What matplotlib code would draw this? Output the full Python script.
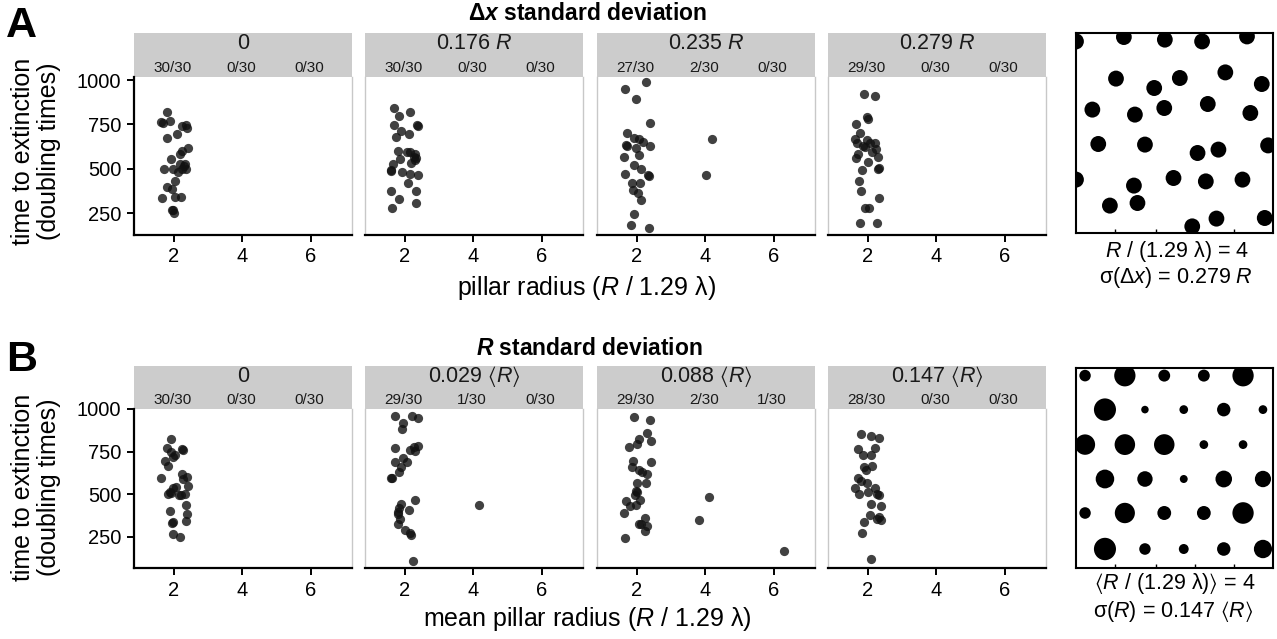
import matplotlib
matplotlib.use('Agg')
import matplotlib.pyplot as plt
from matplotlib.patches import Rectangle, Circle
import matplotlib.transforms as mtransforms

plt.rcParams['font.family'] = ['Liberation Sans', 'DejaVu Sans']
plt.rcParams['mathtext.fontset'] = 'custom'
plt.rcParams['mathtext.rm'] = 'Liberation Sans'
plt.rcParams['mathtext.it'] = 'Liberation Sans:italic'
plt.rcParams['mathtext.bf'] = 'Liberation Sans:bold'
plt.rcParams['mathtext.bfit'] = 'Liberation Sans:bold:italic'
plt.rcParams['mathtext.fallback'] = 'stixsans'

# ---- data: time to extinction per run (x = jittered pillar radius) ----
# row A, delta-x standard deviation
a1_x = [1.80, 1.63, 1.68, 1.87, 1.78, 2.10, 2.24, 2.36, 2.39, 2.41, 2.24, 2.17, 1.90, 1.72, 1.97,
        2.17, 2.31, 2.36, 2.12, 2.02, 1.78, 1.93, 1.66, 2.02, 2.19, 1.97, 2.00, 2.24, 2.29, 1.95]
a1_y = [821, 764, 759, 770, 674, 695, 740, 744, 727, 617, 599, 585, 552, 501, 501,
        529, 529, 501, 482, 429, 397, 384, 337, 340, 340, 269, 252, 501, 516, 265]
a2_x = [1.67, 2.15, 1.82, 1.67, 2.37, 2.35, 1.87, 2.13, 1.75, 1.78, 2.05, 2.30, 2.33, 1.85, 2.17,
        1.65, 1.60, 1.90, 2.15, 2.37, 1.60, 2.10, 1.58, 2.33, 1.83, 2.32, 1.63, 2.25, 2.15, 2.28]
a2_y = [845, 817, 796, 746, 742, 746, 712, 693, 676, 601, 595, 585, 563, 552, 533,
        529, 491, 482, 472, 467, 487, 420, 374, 374, 331, 308, 278, 567, 595, 548]
a3_x = [2.26, 1.66, 1.97, 2.39, 1.72, 1.90, 2.05, 2.17, 1.68, 1.71, 2.39, 1.97, 2.07, 1.63, 1.92,
        2.12, 2.36, 2.31, 1.65, 1.84, 2.10, 1.87, 2.02, 2.12, 1.92, 1.83, 2.34, 4.20, 4.02]
a3_y = [987, 949, 893, 755, 699, 674, 666, 651, 636, 627, 629, 617, 576, 567, 520,
        497, 457, 463, 472, 420, 422, 378, 365, 322, 246, 184, 165, 670, 463]
a4_x = [1.89, 2.21, 1.97, 2.00, 1.65, 1.77, 1.63, 1.68, 1.97, 1.85, 2.07, 2.20, 2.24, 2.12, 1.70,
        1.65, 2.28, 2.00, 2.33, 2.29, 1.83, 1.74, 1.79, 2.33, 1.90, 2.04, 1.77, 2.26, 1.92]
a4_y = [921, 910, 793, 778, 752, 704, 665, 646, 661, 629, 646, 646, 610, 595, 585,
        563, 567, 535, 506, 501, 495, 431, 374, 337, 280, 280, 194, 196, 623]

# row B, R standard deviation
b1_x = [1.92, 1.78, 1.90, 2.04, 1.97, 2.24, 2.27, 1.75, 1.81, 1.63, 2.24, 2.27, 2.39, 2.41, 1.97,
        2.07, 1.87, 1.83, 1.92, 2.15, 2.33, 2.21, 2.34, 2.38, 1.87, 2.36, 1.97, 1.94, 1.97, 2.17]
b1_y = [823, 770, 750, 731, 721, 766, 760, 696, 667, 597, 619, 588, 600, 548, 535,
        544, 515, 501, 505, 495, 501, 495, 436, 387, 401, 344, 338, 334, 270, 250]
b2_x = [1.72, 2.20, 2.38, 1.95, 1.90, 1.70, 2.15, 2.27, 2.38, 2.30, 1.93, 1.70, 2.07, 1.88, 1.82,
        1.60, 1.62, 1.87, 2.30, 1.83, 1.78, 2.13, 1.85, 1.78, 2.00, 2.15, 2.18, 2.23, 1.80, 4.17]
b2_y = [957, 961, 947, 918, 882, 770, 760, 776, 784, 751, 715, 688, 688, 658, 633,
        597, 593, 446, 466, 417, 397, 407, 354, 325, 293, 276, 260, 109, 387, 436]
b3_x = [1.90, 2.39, 2.29, 2.40, 2.05, 2.00, 1.76, 1.89, 2.41, 1.84, 2.05, 2.15, 2.29, 2.00, 2.26,
        1.97, 2.00, 2.10, 1.68, 1.80, 1.97, 1.63, 2.24, 2.07, 2.29, 2.22, 1.65, 2.12, 1.94,
        4.10, 3.82, 6.28]
b3_y = [953, 937, 859, 810, 823, 796, 776, 696, 692, 662, 643, 633, 619, 568, 564,
        521, 511, 466, 460, 431, 436, 391, 364, 323, 315, 285, 244, 325, 495,
        482, 348, 166]
b4_x = [1.80, 2.09, 2.33, 2.20, 1.70, 1.85, 2.10, 1.89, 1.95, 2.12, 1.72, 1.78, 1.63, 1.74, 1.97,
        2.00, 2.20, 2.26, 2.31, 2.09, 2.39, 2.05, 2.26, 2.39, 2.31, 1.89, 1.82, 2.10]
b4_y = [855, 840, 830, 773, 763, 730, 730, 662, 642, 666, 595, 577, 536, 503, 566,
        513, 536, 503, 493, 444, 434, 377, 358, 348, 368, 338, 275, 118]

strip_a = ['0', '0.176 $R$', '0.235 $R$', '0.279 $R$']
strip_b = ['0', r'0.029 $\langle R\rangle$', r'0.088 $\langle R\rangle$', r'0.147 $\langle R\rangle$']
counts_a = [['30/30', '0/30', '0/30'], ['30/30', '0/30', '0/30'],
            ['27/30', '2/30', '0/30'], ['29/30', '0/30', '0/30']]
counts_b = [['30/30', '0/30', '0/30'], ['29/30', '1/30', '0/30'],
            ['29/30', '2/30', '1/30'], ['28/30', '0/30', '0/30']]
radius_ticks = [2, 4, 6]

# pillar layouts (unit square)
pil_a_u = [0.0, 0.243, 0.451, 0.640, 0.868, 0.203, 0.397, 0.527, 0.758, 0.943,
           0.083, 0.299, 0.448, 0.669, 0.885, 0.113, 0.350, 0.617, 0.723, 0.975,
           0.0, 0.495, 0.294, 0.659, 0.845, 0.172, 0.312, 0.590, 0.713, 0.958, 0.470]
pil_a_v = [0.958, 0.980, 0.967, 0.958, 0.983, 0.772, 0.725, 0.775, 0.803, 0.745,
           0.617, 0.592, 0.625, 0.645, 0.600, 0.445, 0.442, 0.400, 0.417, 0.438,
           0.267, 0.275, 0.237, 0.258, 0.267, 0.137, 0.150, 0.033, 0.072, 0.075, -0.035]
pil_a_r = 0.040

pil_b_u = [0.046, 0.248, 0.448, 0.649, 0.848,
           0.147, 0.350, 0.547, 0.750, 0.949,
           0.046, 0.248, 0.448, 0.649, 0.848,
           0.147, 0.350, 0.547, 0.750, 0.949,
           0.046, 0.248, 0.448, 0.649, 0.848,
           0.147, 0.350, 0.547, 0.750, 0.949]
pil_b_v = [0.962] * 5 + [0.792] * 5 + [0.617] * 5 + [0.445] * 5 + [0.275] * 5 + [0.095] * 5
pil_b_r = [0.029, 0.054, 0.030, 0.030, 0.054,
           0.056, 0.019, 0.022, 0.034, 0.022,
           0.051, 0.052, 0.052, 0.022, 0.022,
           0.047, 0.039, 0.020, 0.042, 0.041,
           0.029, 0.051, 0.035, 0.035, 0.054,
           0.056, 0.029, 0.025, 0.034, 0.046]

W, H = 1277, 639
fig = plt.figure(figsize=(W / 100, H / 100), dpi=100)


def box(left, top, width, height):
    return [left / W, 1 - (top + height) / H, width / W, height / H]


def fy(px):
    return 1 - px / H


lefts = [134, 365, 597, 828]
grey_edge = '#c8c8c8'


def facet_row(top, bottom, ylim, xs, ys, strips, counts, strip_h):
    for i in range(4):
        ax = fig.add_axes(box(lefts[i], top, 218, bottom - top))
        ax.scatter(xs[i], ys[i], s=44, color='#111111', alpha=0.8, linewidths=0, zorder=3)
        ax.set_xlim(0.83, 7.2)
        ax.set_ylim(*ylim)
        ax.set_xticks(radius_ticks)
        ax.set_yticks([250, 500, 750, 1000])
        ax.tick_params(labelsize=14.5, width=1.4, length=5, color='black', pad=4)
        ax.spines['bottom'].set_linewidth(1.6)
        ax.spines['top'].set_visible(False)
        ax.spines['right'].set_color(grey_edge)
        ax.spines['right'].set_linewidth(1.0)
        if i == 0:
            ax.spines['left'].set_linewidth(1.6)
        else:
            ax.spines['left'].set_color(grey_edge)
            ax.spines['left'].set_linewidth(1.0)
            ax.tick_params(axis='y', left=False, labelleft=False)
        h = strip_h / (bottom - top)
        ax.add_patch(Rectangle((0, 1), 1, h, transform=ax.transAxes, clip_on=False,
                               facecolor='#cccccc', edgecolor='none'))
        ax.text(0.5, 1 + h * 0.76, strips[i], transform=ax.transAxes, ha='center', va='center',
                fontsize=15.5, color='#1a1a1a')
        trans = mtransforms.blended_transform_factory(ax.transData, ax.transAxes)
        for xv, c in zip(radius_ticks, counts[i]):
            ax.text(xv - 0.05, 1 + h * 0.2, c, transform=trans, ha='center', va='center',
                    fontsize=11, color='#1a1a1a')


facet_row(77, 235, (126, 1017), [a1_x, a2_x, a3_x, a4_x], [a1_y, a2_y, a3_y, a4_y],
          strip_a, counts_a, 44)
facet_row(409, 568, (68, 1000), [b1_x, b2_x, b3_x, b4_x], [b1_y, b2_y, b3_y, b4_y],
          strip_b, counts_b, 43)


def pillar_panel(top, us, vs, rs):
    ax = fig.add_axes(box(1076, top, 197, 200))
    for u, v, r in zip(us, vs, rs):
        ax.add_patch(Circle((u, v), r, facecolor='black', edgecolor='none'))
    ax.set_xlim(0, 1)
    ax.set_ylim(0, 1)
    ax.set_xticks([0.2, 0.405, 0.603, 0.8])
    ax.set_yticks([])
    ax.tick_params(axis='x', direction='in', length=3, width=1, labelbottom=False)
    for s in ax.spines.values():
        s.set_linewidth(1.5)
    return ax


pillar_panel(33, pil_a_u, pil_a_v, [pil_a_r] * len(pil_a_u))
pillar_panel(368, pil_b_u, pil_b_v, pil_b_r)

# titles, panel letters
fig.text(588 / W, fy(20), r'Δ$\mathbfit{x}$ standard deviation', ha='center', va='baseline',
         fontsize=16.5, weight='bold')
fig.text(589 / W, fy(355), r'$\mathbfit{R}$ standard deviation', ha='center', va='baseline',
         fontsize=16.5, weight='bold')
fig.text(6 / W, fy(37), 'A', fontsize=31, weight='bold', va='baseline', ha='left')
fig.text(6 / W, fy(371), 'B', fontsize=31, weight='bold', va='baseline', ha='left')

# axis titles
fig.text(586 / W, fy(295), 'pillar radius ($R$ / 1.29 λ)', ha='center', va='baseline', fontsize=18)
fig.text(587 / W, fy(626), 'mean pillar radius ($R$ / 1.29 λ)', ha='center', va='baseline', fontsize=18)
for yc in [151, 487]:
    fig.text(36 / W, fy(yc), 'time to extinction\n(doubling times)', rotation=90,
             ha='center', va='center', fontsize=18, linespacing=1.15)

# pillar captions
fig.text(1177 / W, fy(251), '$R$ / (1.29 λ) = 4', ha='center', va='center', fontsize=15.5)
fig.text(1176 / W, fy(277), r'σ(Δ$x$) = 0.279 $R$', ha='center', va='center', fontsize=15.5)
fig.text(1175 / W, fy(583), r'$\langle R$ / (1.29 λ)$\rangle$ = 4', ha='center', va='center', fontsize=15.5)
fig.text(1173 / W, fy(611), r'σ($R$) = 0.147 $\langle R\rangle$', ha='center', va='center', fontsize=15.5)

fig.savefig('out.png', dpi=100)
